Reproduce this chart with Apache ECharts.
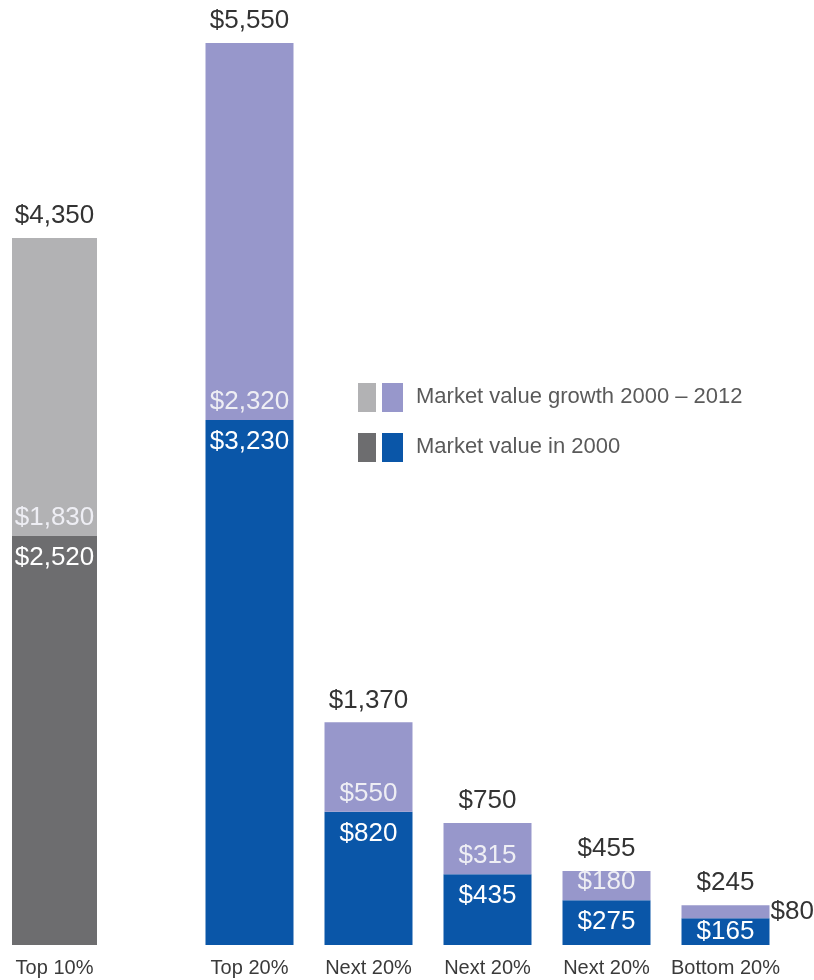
<!DOCTYPE html>
<html>
<head>
<meta charset="utf-8">
<script src="https://cdn.jsdelivr.net/npm/echarts@6/dist/echarts.min.js"></script>
<style>
html,body{margin:0;padding:0;background:#fff;}
#chart{width:814px;height:980px;}
</style>
</head>
<body>
<div id="chart"></div>
<script>
// Data
const categoriesA = ['Top 10%'];
const base2000A = [2520];
const growthA = [1830];
const totalsA = [4350];

const categoriesB = ['Top 20%', 'Next 20%', 'Next 20%', 'Next 20%', 'Bottom 20%'];
const base2000B = [3230, 820, 435, 275, 165];
const growthB = [2320, 550, 315, 180, 80];
const totalsB = [5550, 1370, 750, 455, 245];

const legendLabels = ['Market value growth 2000 \u2013 2012', 'Market value in 2000'];

const yMax = 5550;
const FONT = "'Liberation Sans', Arial, sans-serif";
const fmt = v => '$' + Number(v).toLocaleString('en-US');

const colors = {
  grayBase: '#6d6d6f',
  grayGrowth: '#b2b2b4',
  blueBase: '#0a56a8',
  purpleGrowth: '#9797cb'
};

const chart = echarts.init(document.getElementById('chart'), null, {renderer: 'canvas'});

function catAxis(idx, data) {
  return {
    type: 'category', gridIndex: idx, data: data,
    axisLine: {show: false}, axisTick: {show: false},
    axisLabel: {interval: 0, color: '#3a3a3a', fontSize: 20, fontFamily: FONT, margin: 13}
  };
}
function valAxis(idx) {
  return {type: 'value', gridIndex: idx, min: 0, max: yMax, show: false, splitLine: {show: false}};
}

const valueLabel = {fontSize: 26, fontFamily: FONT};

function stackSeries(axisIdx, base, growth, totals, baseColor, growthColor, barWidth, smallLast) {
  const growthData = growth.map((v, i) => {
    if (smallLast && i === growth.length - 1) {
      return {value: v, label: {position: 'right', color: '#333', distance: 1}};
    }
    return v;
  });
  const baseData = base.map((v, i) => {
    if (smallLast && i === base.length - 1) {
      return {value: v, label: {position: 'inside'}};
    }
    return v;
  });
  return [
    {
      type: 'bar', name: legendLabels[1], xAxisIndex: axisIdx, yAxisIndex: axisIdx,
      stack: 's' + axisIdx, data: baseData, barWidth: barWidth,
      itemStyle: {color: baseColor},
      label: Object.assign({show: true, position: 'insideTop', distance: 9, color: '#ffffff', formatter: p => fmt(p.value)}, valueLabel)
    },
    {
      type: 'bar', name: legendLabels[0], xAxisIndex: axisIdx, yAxisIndex: axisIdx,
      stack: 's' + axisIdx, data: growthData, barWidth: barWidth,
      itemStyle: {color: growthColor},
      label: Object.assign({show: true, position: 'insideBottom', distance: 5, color: '#eeeef4', formatter: p => fmt(p.value)}, valueLabel)
    },
    {
      type: 'bar', name: 'total', xAxisIndex: axisIdx, yAxisIndex: axisIdx,
      data: totals, barWidth: barWidth, barGap: '-100%', z: 1,
      itemStyle: {color: 'rgba(0,0,0,0)'},
      label: Object.assign({show: true, position: 'top', distance: 9, color: '#333333', formatter: p => fmt(p.value)}, valueLabel),
      silent: true
    }
  ];
}

const legendX = 358;
const legendRows = [
  {y: 383, c1: colors.grayGrowth, c2: colors.purpleGrowth, text: legendLabels[0]},
  {y: 433, c1: colors.grayBase, c2: colors.blueBase, text: legendLabels[1]}
];
const graphic = [];
legendRows.forEach(r => {
  graphic.push({type: 'rect', left: legendX, top: r.y, shape: {width: 18, height: 29}, style: {fill: r.c1}});
  graphic.push({type: 'rect', left: legendX + 24, top: r.y, shape: {width: 21, height: 29}, style: {fill: r.c2}});
  graphic.push({type: 'text', left: legendX + 58, top: r.y + 3, style: {text: r.text, fill: '#5a5a5a', font: '22px ' + FONT}});
});

const option = {
  animation: false,
  backgroundColor: '#ffffff',
  grid: [
    {left: 0, width: 109, top: 43, bottom: 35},
    {left: 190, width: 595, top: 43, bottom: 35}
  ],
  xAxis: [catAxis(0, categoriesA), catAxis(1, categoriesB)],
  yAxis: [valAxis(0), valAxis(1)],
  series: [].concat(
    stackSeries(0, base2000A, growthA, totalsA, colors.grayBase, colors.grayGrowth, 85, false),
    stackSeries(1, base2000B, growthB, totalsB, colors.blueBase, colors.purpleGrowth, 88, true)
  ),
  graphic: graphic
};
chart.setOption(option);
</script>
</body>
</html>
